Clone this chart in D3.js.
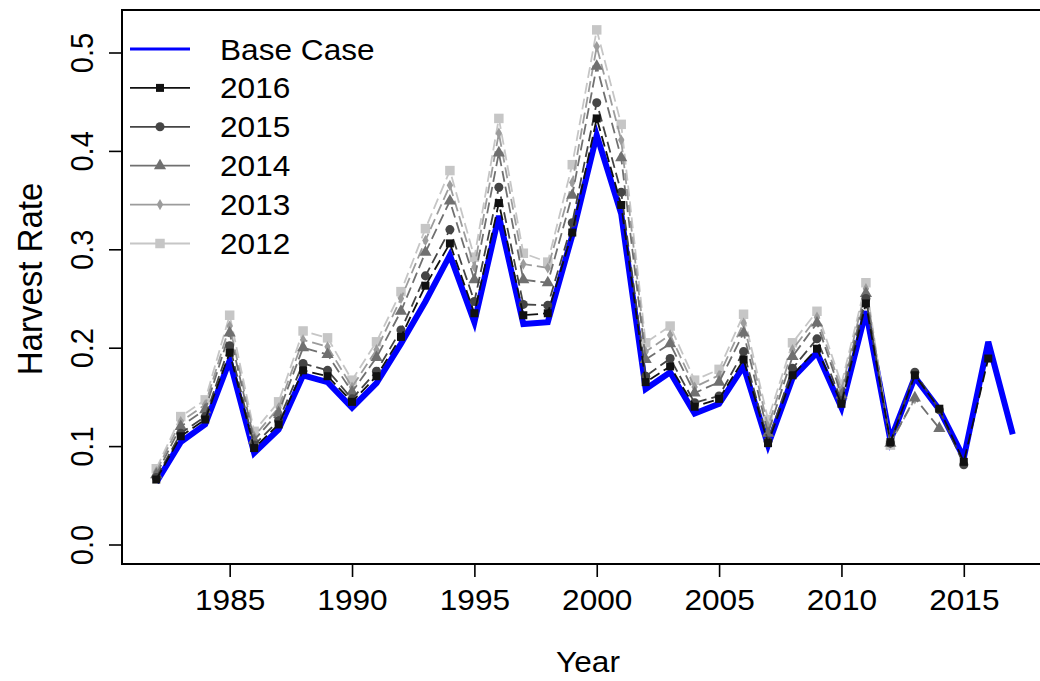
<!DOCTYPE html>
<html>
<head>
<meta charset="utf-8">
<script src="https://cdn.jsdelivr.net/npm/d3@7"></script>
<style>
  html, body { margin: 0; padding: 0; background: #fff; }
  svg { display: block; }
  text { font-family: "Liberation Sans", Arial, sans-serif; fill: #000; }
</style>
</head>
<body>
<svg id="chart" width="1040" height="681"></svg>
<script>
// ---- Data ----
const years = d3.range(1982, 2018);
const xTicks = [1985, 1990, 1995, 2000, 2005, 2010, 2015];
const yTicks = [0.0, 0.1, 0.2, 0.3, 0.4, 0.5];
const yTickLabels = ["0.0", "0.1", "0.2", "0.3", "0.4", "0.5"];

const baseCase = [0.063, 0.104, 0.122, 0.187, 0.093, 0.117, 0.172, 0.165, 0.139, 0.164,
  0.204, 0.247, 0.294, 0.226, 0.334, 0.224, 0.226, 0.314, 0.416, 0.336,
  0.158, 0.175, 0.133, 0.143, 0.181, 0.101, 0.169, 0.195, 0.139, 0.237,
  0.106, 0.170, 0.137, 0.088, 0.206, 0.112];
const peel2016 = [0.066, 0.110, 0.127, 0.195, 0.098, 0.122, 0.177, 0.171, 0.145, 0.171,
  0.211, 0.263, 0.306, 0.235, 0.347, 0.233, 0.235, 0.317, 0.433, 0.345,
  0.165, 0.181, 0.140, 0.148, 0.188, 0.103, 0.172, 0.199, 0.143, 0.245,
  0.104, 0.172, 0.138, 0.084, 0.189];
const peel2015 = [0.068, 0.113, 0.130, 0.202, 0.101, 0.126, 0.184, 0.177, 0.148, 0.176,
  0.218, 0.273, 0.320, 0.247, 0.363, 0.244, 0.243, 0.327, 0.449, 0.358,
  0.171, 0.189, 0.144, 0.151, 0.196, 0.105, 0.179, 0.209, 0.146, 0.250,
  0.103, 0.175, 0.137, 0.081];
const peel2014 = [0.071, 0.120, 0.137, 0.215, 0.106, 0.134, 0.200, 0.193, 0.155, 0.190,
  0.237, 0.297, 0.349, 0.269, 0.398, 0.269, 0.266, 0.355, 0.486, 0.393,
  0.188, 0.204, 0.154, 0.165, 0.215, 0.113, 0.191, 0.225, 0.152, 0.255,
  0.103, 0.149, 0.118];
const peel2013 = [0.074, 0.125, 0.142, 0.222, 0.110, 0.139, 0.208, 0.201, 0.160, 0.198,
  0.250, 0.309, 0.365, 0.282, 0.418, 0.285, 0.281, 0.368, 0.506, 0.411,
  0.196, 0.213, 0.160, 0.172, 0.225, 0.120, 0.198, 0.231, 0.157, 0.260,
  0.103, 0.148];
const peel2012 = [0.077, 0.130, 0.147, 0.233, 0.115, 0.145, 0.217, 0.210, 0.167, 0.206,
  0.257, 0.321, 0.380, 0.292, 0.433, 0.296, 0.287, 0.386, 0.523, 0.427,
  0.205, 0.222, 0.167, 0.178, 0.234, 0.127, 0.205, 0.237, 0.163, 0.266,
  0.101];

const seriesNames = ["Base Case", "2016", "2015", "2014", "2013", "2012"];

// ---- Styles ----
const peels = [
  { name: "2012", values: peel2012, color: "#c6c6c6", symbol: d3.symbolSquare, size: 90 },
  { name: "2013", values: peel2013, color: "#9c9c9c", symbol: d3.symbolDiamond, size: 36 },
  { name: "2014", values: peel2014, color: "#707070", symbol: d3.symbolTriangle, size: 64 },
  { name: "2015", values: peel2015, color: "#454545", symbol: d3.symbolCircle, size: 64 },
  { name: "2016", values: peel2016, color: "#111111", symbol: d3.symbolSquare, size: 64 }
];

const svg = d3.select("#chart");
const mLeft = 122, mRight = 1047, mTop = 10, mBottom = 564;

const x = d3.scaleLinear().domain([1980.6, 2018.4]).range([mLeft, mRight]);
const y = d3.scaleLinear().domain([0, 0.5]).range([544.5, 52.5]);

const STRETCH = 1.09;
const FS = 29;

// Axes
const xAxis = d3.axisBottom(x).tickValues(xTicks).tickSize(13).tickPadding(12).tickFormat(d3.format("d"));
const gx = svg.append("g").attr("transform", `translate(0,${mBottom})`).call(xAxis);
gx.select(".domain").remove();
gx.selectAll(".tick line").attr("stroke", "#000").attr("stroke-width", 1.6);
gx.selectAll(".tick text")
  .attr("font-size", FS)
  .attr("font-family", "Liberation Sans, Arial, sans-serif")
  .attr("fill", "#000")
  .attr("transform", `scale(${STRETCH},1)`);

const yAxis = d3.axisLeft(y).tickValues(yTicks).tickSize(13).tickFormat((d, i) => yTickLabels[i]);
const gy = svg.append("g").attr("transform", `translate(${mLeft},0)`).call(yAxis);
gy.select(".domain").remove();
gy.selectAll(".tick line").attr("stroke", "#000").attr("stroke-width", 1.6);
gy.selectAll(".tick text")
  .attr("font-size", FS)
  .attr("font-family", "Liberation Sans, Arial, sans-serif")
  .attr("fill", "#000")
  .attr("text-anchor", "middle")
  .attr("x", 0)
  .attr("dy", null)
  .attr("y", -29 / STRETCH)
  .attr("transform", `rotate(-90) scale(1,${STRETCH})`);

// Lines
const lineGen = d3.line().x((d, i) => x(years[i])).y(d => y(d));

svg.append("path")
  .datum(baseCase)
  .attr("d", lineGen)
  .attr("fill", "none")
  .attr("stroke", "#0000ff")
  .attr("stroke-width", 6)
  .attr("stroke-linejoin", "miter");

peels.forEach(p => {
  svg.append("path")
    .datum(p.values)
    .attr("d", lineGen)
    .attr("fill", "none")
    .attr("stroke", p.color)
    .attr("stroke-width", 1.8)
    .attr("stroke-dasharray", "11,5");
  svg.append("g").selectAll("path")
    .data(p.values)
    .join("path")
    .attr("transform", (d, i) => `translate(${x(years[i])},${y(d)})`)
    .attr("d", d3.symbol().type(p.symbol).size(p.size))
    .attr("fill", p.color);
});

// Box
svg.append("rect")
  .attr("x", mLeft).attr("y", mTop)
  .attr("width", mRight - mLeft).attr("height", mBottom - mTop)
  .attr("fill", "none").attr("stroke", "#000").attr("stroke-width", 2);

// Axis titles
svg.append("text")
  .attr("transform", `translate(588,672) scale(${STRETCH},1)`)
  .attr("text-anchor", "middle")
  .attr("font-size", FS)
  .text("Year");
svg.append("text")
  .attr("transform", `translate(42,279) rotate(-90) scale(1,${STRETCH})`)
  .attr("text-anchor", "middle")
  .attr("font-size", 33)
  .text("Harvest Rate");

// Legend
const legendY0 = 49, legendDY = 38.9;
const legendItems = [{ name: seriesNames[0], color: "#0000ff", base: true }]
  .concat(peels.slice().reverse().map(p => ({ name: p.name, color: p.color, symbol: p.symbol, size: p.size })));
const lg = svg.append("g");
legendItems.forEach((it, i) => {
  const ly = legendY0 + i * legendDY;
  lg.append("line")
    .attr("x1", 130).attr("x2", 190).attr("y1", ly).attr("y2", ly)
    .attr("stroke", it.color).attr("stroke-width", it.base ? 3.2 : 1.8);
  if (!it.base) {
    lg.append("path")
      .attr("transform", `translate(160,${ly})`)
      .attr("d", d3.symbol().type(it.symbol).size(it.size))
      .attr("fill", it.color);
  }
  lg.append("text")
    .attr("transform", `translate(220,${ly + 10.5}) scale(${STRETCH},1)`)
    .attr("font-size", FS)
    .text(it.name);
});
</script>
</body>
</html>
